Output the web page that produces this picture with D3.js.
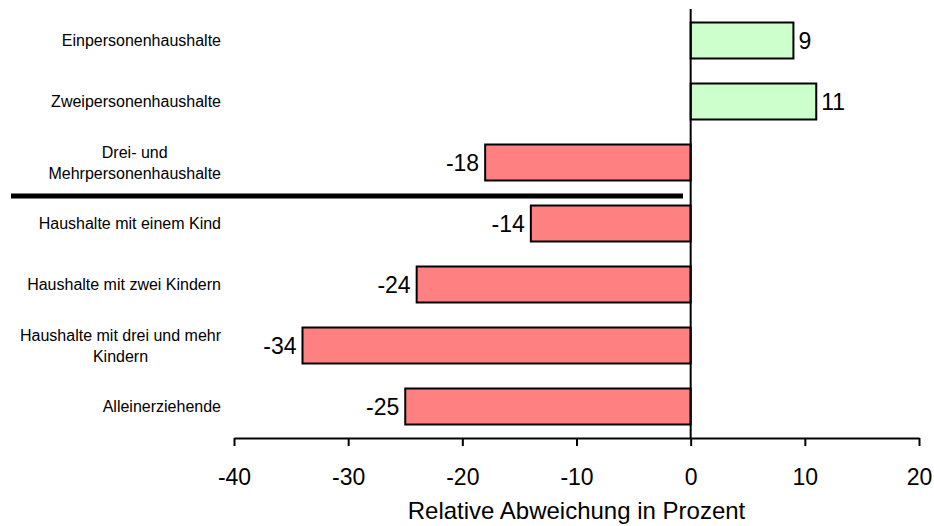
<!DOCTYPE html>
<html>
<head>
<meta charset="utf-8">
<script src="https://cdn.jsdelivr.net/npm/d3@7"></script>
<style>
  html, body { margin: 0; padding: 0; background: #fff; }
  svg { display: block; font-family: "Liberation Sans", Arial, sans-serif; }
</style>
</head>
<body>
<svg id="chart" width="934" height="526"></svg>
<script>
// Household types (label lines) and their relative deviation in percent
const categories = [
  ["Einpersonenhaushalte"],
  ["Zweipersonenhaushalte"],
  ["Drei- und", "Mehrpersonenhaushalte"],
  ["Haushalte mit einem Kind"],
  ["Haushalte mit zwei Kindern"],
  ["Haushalte mit drei und mehr", "Kindern"],
  ["Alleinerziehende"]
];
const values = [9, 11, -18, -14, -24, -34, -25];
const xTicks = [-40, -30, -20, -10, 0, 10, 20];
const axisTitle = "Relative Abweichung in Prozent";
const separatorAfter = 2; // line drawn below the third group

const svg = d3.select("#chart");
const keys = categories.map(c => c.join(" "));

const x = d3.scaleLinear().domain([-40, 20]).range([234, 919]);
const y = d3.scaleBand().domain(keys).range([10, 437])
  .paddingInner(0.41).paddingOuter(0.205);
const axisY = 438;

// Bars
svg.append("g").selectAll("rect")
  .data(values)
  .join("rect")
  .attr("x", d => x(Math.min(0, d)))
  .attr("y", (d, i) => y(keys[i]))
  .attr("width", d => Math.abs(x(d) - x(0)))
  .attr("height", y.bandwidth())
  .attr("fill", d => d >= 0 ? "#ccffcc" : "#ff8080")
  .attr("stroke", "#000")
  .attr("stroke-width", 2);

// Value labels
svg.append("g").selectAll("text")
  .data(values)
  .join("text")
  .attr("x", d => d >= 0 ? x(d) + 5 : x(d) - 6)
  .attr("y", (d, i) => y(keys[i]) + y.bandwidth() / 2)
  .attr("dy", "0.36em")
  .attr("text-anchor", d => d >= 0 ? "start" : "end")
  .attr("font-size", 23)
  .attr("fill", "#000")
  .text(d => d);

// Zero line
svg.append("line")
  .attr("x1", x(0)).attr("x2", x(0))
  .attr("y1", 9).attr("y2", axisY)
  .attr("stroke", "#000").attr("stroke-width", 2);

// Category labels: block right-aligned, lines centered within the block
const labelRight = 221;
const labels = svg.append("g").attr("font-size", 16).attr("fill", "#000");
categories.forEach((lines, i) => {
  const cy = y(keys[i]) + y.bandwidth() / 2;
  const t = labels.append("text").attr("text-anchor", "middle");
  const lh = 21;
  const spans = lines.map((ln, j) =>
    t.append("tspan")
      .attr("y", cy + (j - (lines.length - 1) / 2) * lh)
      .attr("dy", "0.36em")
      .text(ln));
  const maxW = d3.max(spans, s => s.node().getComputedTextLength());
  spans.forEach(s => s.attr("x", labelRight - maxW / 2));
});

// Separator between household sizes and households with children
const sepY = (y(keys[separatorAfter]) + y.bandwidth() + y(keys[separatorAfter + 1])) / 2 + 3;
svg.append("line")
  .attr("x1", 11).attr("x2", 683)
  .attr("y1", sepY).attr("y2", sepY)
  .attr("stroke", "#000").attr("stroke-width", 5);

// X axis
const axis = svg.append("g")
  .attr("transform", `translate(0,${axisY})`)
  .call(d3.axisBottom(x).tickValues(xTicks).tickSize(8).tickSizeOuter(0).tickPadding(14)
    .tickFormat(d3.format("d")));
axis.select(".domain").attr("stroke", "#000").attr("stroke-width", 2);
axis.selectAll(".tick line").attr("stroke", "#000").attr("stroke-width", 2);
axis.selectAll(".tick text")
  .attr("font-size", 23)
  .attr("font-family", "Liberation Sans, Arial, sans-serif")
  .attr("fill", "#000")
  .attr("dy", null)
  .attr("y", 47)
  .text(d => d < 0 ? "-" + Math.abs(d) : d);

svg.append("text")
  .attr("x", (x(-40) + x(20)) / 2)
  .attr("y", 519)
  .attr("text-anchor", "middle")
  .attr("font-size", 24)
  .attr("fill", "#000")
  .text(axisTitle);
</script>
</body>
</html>
